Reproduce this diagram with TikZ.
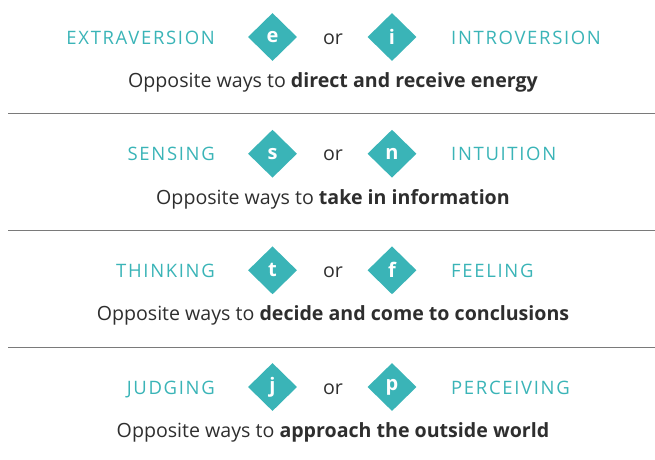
\documentclass[tikz,border=0pt]{standalone}
\usepackage{fontspec}
\setmainfont{Open Sans}
\newfontfamily\spacedcaps[LetterSpace=9]{Open Sans}
\usetikzlibrary{shapes.geometric,positioning}

\definecolor{prefteal}{HTML}{3AB4B7}
\definecolor{ink}{HTML}{2E2E2E}
\definecolor{rule}{HTML}{7A7A7A}

\begin{document}
\begin{tikzpicture}[x=1pt,y=-1pt,
    pole/.style={text=prefteal,inner sep=0pt,font=\spacedcaps\fontsize{18.5}{18.5}\selectfont},
    letter/.style={diamond,fill=prefteal,inner sep=0pt,minimum width=49pt,minimum height=48pt,
      text=white,font=\bfseries\fontsize{20}{20}\selectfont},
    ways/.style={text=ink,inner sep=0pt,font=\fontsize{19.6}{19.6}\selectfont}]

\useasboundingbox (0,0) rectangle (655,459);

% one row per pair of preferences
\foreach \y/\lname/\a/\b/\rname/\what [count=\i] in {
    44/EXTRAVERSION/e/i/INTROVERSION/direct and receive energy,
    160.7/SENSING/s/n/INTUITION/take in information,
    277.3/THINKING/t/f/FEELING/decide and come to conclusions,
    394/JUDGING/j/p/PERCEIVING/approach the outside world}
{
  \node[letter] (a\i) at (272.5,\y-7) {\a};
  \node[letter] (b\i) at (392,\y-7) {\b};
  \node[ways,anchor=base] (or\i) at (333,\y) {or};
  \node[pole,anchor=base east] (l\i) at (215,\y) {\lname};
  \node[pole,anchor=base west] (r\i) at (451,\y) {\rname};
  \node[ways,anchor=base] (w\i) at (333,\y+43.5) {Opposite ways to \textbf{\what}};
}

% separators between the rows
\foreach \y [count=\i] in {113,230.5,347.5}
  \draw[rule,line width=0.8pt] (8,\y) coordinate (s\i) -- (655,\y) coordinate (e\i);

\end{tikzpicture}
\end{document}
